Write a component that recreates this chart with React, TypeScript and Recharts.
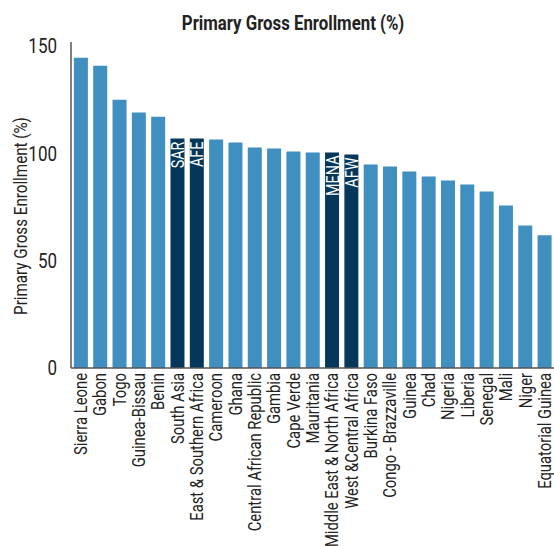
import { BarChart, Bar, XAxis, YAxis, Cell, LabelList } from "recharts";

const countries = [
  "Sierra Leone",
  "Gabon",
  "Togo",
  "Guinea-Bissau",
  "Benin",
  "South Asia",
  "East & Southern Africa",
  "Cameroon",
  "Ghana",
  "Central African Republic",
  "Gambia",
  "Cape Verde",
  "Mauritania",
  "Middle East & North Africa",
  "West &Central Africa",
  "Burkina Faso",
  "Congo - Brazzaville",
  "Guinea",
  "Chad",
  "Nigeria",
  "Liberia",
  "Senegal",
  "Mali",
  "Niger",
  "Equatorial Guinea",
];

const enrollment = [
  144.7, 140.9, 125.1, 119.1, 117.2, 107.0, 107.0, 106.5, 105.1, 102.8, 102.3,
  100.9, 100.5, 100.5, 99.5, 94.9, 94.0, 91.6, 89.3, 87.4, 85.6, 82.3, 75.8,
  66.5, 61.9,
];

// region aggregates get a short code drawn inside the bar
const regionCodes = [
  "", "", "", "", "", "SAR", "AFE", "", "", "", "", "", "", "MENA", "AFW",
  "", "", "", "", "", "", "", "", "", "",
];

const yTicks = [0, 50, 100, 150];

const FONT = "Roboto, 'Liberation Sans', sans-serif";
const NARROW = 0.8; // horizontal squeeze to get a condensed look
const LIGHT = "#3f8fc0";
const DARK = "#04375a";
const TEXT = "#222";

const data = countries.map((name, i) => ({
  name,
  value: enrollment[i],
  code: regionCodes[i],
}));

const CountryTick = (props: any) => {
  const { x, y, payload } = props;
  return (
    <text
      x={0}
      y={0}
      transform={`translate(${x + 6.5},${y - 3}) rotate(-90) scale(${NARROW},1)`}
      textAnchor="end"
      fontFamily={FONT}
      fontSize={18.5}
      fill={TEXT}
    >
      {payload.value}
    </text>
  );
};

const ValueTick = (props: any) => {
  const { x, y, payload } = props;
  return (
    <text
      x={0}
      y={0}
      transform={`translate(${x},${y + 7}) scale(0.85,1)`}
      textAnchor="end"
      fontFamily={FONT}
      fontSize={20}
      fill={TEXT}
    >
      {payload.value}
    </text>
  );
};

const CodeLabel = (props: any) => {
  const { x, y, width, value } = props;
  if (!value) return null;
  return (
    <text
      x={0}
      y={0}
      transform={`translate(${x + width / 2 + 6.5},${y + 3}) rotate(-90) scale(${NARROW},1)`}
      textAnchor="end"
      fontFamily={FONT}
      fontSize={18}
      fill="#fff"
    >
      {value}
    </text>
  );
};

const AxisTitle = (props: any) => {
  const { viewBox } = props;
  const cy = viewBox.y + viewBox.height / 2 + 11;
  return (
    <text
      x={0}
      y={0}
      transform={`translate(27,${cy}) rotate(-90) scale(${NARROW},1)`}
      textAnchor="middle"
      fontFamily={FONT}
      fontSize={19}
      fill={TEXT}
    >
      Primary Gross Enrollment (%)
    </text>
  );
};

export default function App() {
  return (
    <div style={{ position: "absolute", left: 0, top: 0, width: 554, height: 546, background: "#fff" }}>
      <div
        style={{
          position: "absolute",
          left: 0,
          width: 586,
          top: 11,
          textAlign: "center",
          fontFamily: FONT,
          fontWeight: "bold",
          fontSize: 21,
          color: TEXT,
        }}
      >
        <span style={{ display: "inline-block", transform: `scaleX(${NARROW})` }}>
          Primary Gross Enrollment (%)
        </span>
      </div>
      <BarChart
        width={554}
        height={546}
        data={data}
        margin={{ top: 42, right: 0, left: 0, bottom: 0 }}
        barCategoryGap="15%"
      >
        <XAxis
          dataKey="name"
          interval={0}
          height={178}
          tickLine={false}
          axisLine={{ stroke: "#555", strokeWidth: 1.5 }}
          tick={<CountryTick />}
        />
        <YAxis
          width={71}
          domain={[0, 152]}
          ticks={yTicks}
          tickLine={false}
          axisLine={{ stroke: "#555", strokeWidth: 1.5 }}
          tick={<ValueTick />}
          tickMargin={8}
          label={<AxisTitle />}
        />
        <Bar dataKey="value" isAnimationActive={false}>
          {data.map((d, i) => (
            <Cell key={i} fill={d.code ? DARK : LIGHT} />
          ))}
          <LabelList dataKey="code" content={<CodeLabel />} />
        </Bar>
      </BarChart>
    </div>
  );
}
